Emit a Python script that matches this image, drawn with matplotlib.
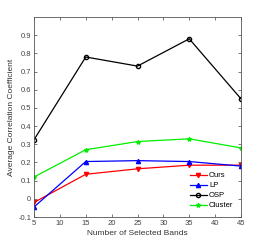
import numpy as np
from matplotlib import pyplot as plt

plt.rcParams['font.family'] = ['Liberation Sans', 'DejaVu Sans']

bands = [5, 15, 25, 35, 45]
ours = [-0.02, 0.135, 0.165, 0.185, 0.185]
lp = [-0.045, 0.205, 0.21, 0.205, 0.18]
osp = [0.325, 0.78, 0.73, 0.88, 0.55]
cluster = [0.12, 0.27, 0.315, 0.33, 0.28]

fig = plt.figure(figsize=(2.66, 2.45), dpi=100)
ax = fig.add_axes([34/266, 28/245, 207/266, 200/245])

ax.plot(bands, ours, color='red', marker='v', ms=3, lw=0.9, label='Ours')
ax.plot(bands, lp, color='blue', marker='^', ms=3, lw=0.9, label='LP')
ax.plot(bands, osp, color='black', marker='o', ms=3, mfc='none', lw=0.9, label='OSP')
ax.plot(bands, cluster, color='#00ee00', marker='*', ms=3, lw=0.9, label='Cluster')

ax.set_xlim(5, 45)
ax.set_ylim(-0.1, 1.0)
ax.set_xticks(range(5, 50, 5))
ax.set_yticks(np.arange(-0.1, 0.95, 0.1))
ax.set_yticklabels(['-0.1', '0', '0.1', '0.2', '0.3', '0.4', '0.5', '0.6', '0.7', '0.8', '0.9'])
ax.tick_params(direction='in', top=True, right=True, labelsize=5.5, length=2,
               width=0.5, colors='#444444', pad=2)
for s in ax.spines.values():
    s.set_linewidth(0.6)
    s.set_color('#555555')
ax.set_xlabel('Number of Selected Bands', fontsize=6, color='#333333', labelpad=2)
ax.set_ylabel('Average Correlation Coefficient', fontsize=6, color='#333333', labelpad=2)

leg = ax.legend(loc='lower right', frameon=False, fontsize=5.5, handlelength=2.2,
                labelspacing=0.35, handletextpad=0.3, borderaxespad=0.6)

fig.savefig('out.png', dpi=100)
